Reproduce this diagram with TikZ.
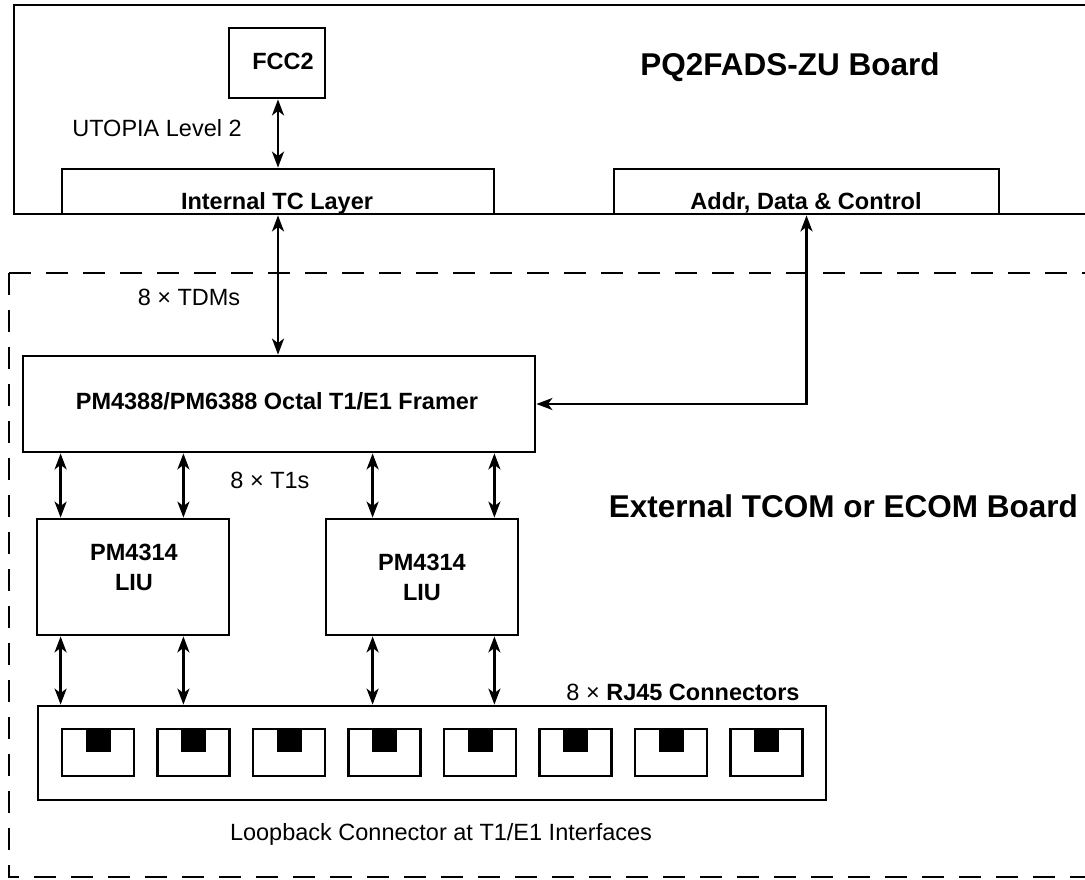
\documentclass[tikz,border=0pt]{standalone}
\usepackage{fontspec}
\setmainfont{Liberation Sans}
\usetikzlibrary{arrows.meta}
\begin{document}
\begin{tikzpicture}[x=1pt,y=-1pt,
  box/.style={draw, line width=2.8pt, inner sep=0pt},
  lbl/.style={font=\fontsize{23.5}{28}\selectfont, inner sep=0pt, text height=16.8pt, text depth=0pt},
  blbl/.style={font=\fontsize{23.5}{28}\selectfont\bfseries, inner sep=0pt, text height=16.8pt, text depth=0pt},
  mlbl/.style={font=\fontsize{23.5}{30}\selectfont\bfseries, inner sep=0pt, align=center},
  big/.style={font=\fontsize{31.5}{36}\selectfont\bfseries, inner sep=0pt, text height=22.6pt, text depth=0pt},
  link/.style={line width=2.4pt, {Stealth[length=16pt,width=12pt,inset=4.5pt]}-{Stealth[length=16pt,width=12pt,inset=4.5pt]}},
  dashline/.style={line width=2.4pt, dash pattern=on 22pt off 15pt},
  jack/.style={draw, line width=2.8pt, minimum width=72pt, minimum height=47pt, inner sep=0pt},
  pin/.style={fill, minimum width=25pt, minimum height=24pt, inner sep=0pt}]
\useasboundingbox (0,0) rectangle (1085,879);

% PQ2FADS-ZU board outline (open to the right)
\coordinate (bTR) at (1085,5);
\coordinate (bTL) at (14,5);
\coordinate (bBL) at (14,214);
\coordinate (bBR) at (1085,214);
\draw[line width=2.8pt] (bTR) -- (bTL) -- (bBL) -- (bBR);

% external board dashed outline (open to the right)
\coordinate (eTL) at (9,273);
\coordinate (eTR) at (1085,273);
\coordinate (eBL) at (9,877);
\coordinate (eBR) at (1085,877);
\draw[dashline] (eTL) -- (eTR);
\draw[dashline] (eTL) -- (eBL) -- (eBR);

% boxes
\node[box, minimum width=96pt, minimum height=70pt] (fcc) at (277,63) {};
\node[box, minimum width=432pt, minimum height=45pt] (tc) at (278,191.5) {};
\node[box, minimum width=385pt, minimum height=45pt] (addr) at (806.5,191.5) {};
\node[box, minimum width=512pt, minimum height=96pt] (fr) at (279,404) {};
\node[box, minimum width=192pt, minimum height=116pt] (l1) at (133,577) {};
\node[box, minimum width=192pt, minimum height=116pt] (l2) at (422,577) {};
\node[box, minimum width=788pt, minimum height=94pt] (rj) at (432,753) {};

% RJ45 jacks
\foreach \i in {0,...,7}{
  \node[jack] (j\i) at ({98+95.5*\i},752.5) {};
  \node[pin, anchor=north] (p\i) at (j\i.north) {};
}

% texts
\node[blbl] (fcct) at (283,61) {FCC2};
\node[big] (pq) at (790,64) {PQ2FADS-ZU Board};
\node[lbl] (utp) at (157,128) {UTOPIA Level 2};
\node[blbl] (tct) at (277,201) {Internal TC Layer};
\node[blbl] (addrt) at (806,201) {Addr, Data \& Control};
\node[lbl] (tdm) at (189,297) {8 × TDMs};
\node[blbl] (frt) at (277,401) {PM4388/PM6388 Octal T1/E1 Framer};
\node[lbl] (t1s) at (270,480) {8 × T1s};
\node[mlbl] (l1t) at (134,567) {PM4314\\LIU};
\node[mlbl] (l2t) at (422,577) {PM4314\\LIU};
\node[big, anchor=east] (ext) at (1078,506) {External TCOM or ECOM Board};
\node[lbl] (rjt) at (683,692) {8 × \textbf{RJ45 Connectors}};
\node[lbl] (loop) at (441,832) {Loopback Connector at T1/E1 Interfaces};

% connectors
\draw[link] (fcc.south -| tc.north) -- (tc.north);
\draw[link] (tc.south) -- (tc.south |- fr.north);
\draw[link] (addr.south) |- (fr.east);

\draw[link] ([xshift=25pt]l1.north west |- fr.south) -- ([xshift=25pt]l1.north west);
\draw[link] ([xshift=-47pt]l1.north east |- fr.south) -- ([xshift=-47pt]l1.north east);
\draw[link] ([xshift=48pt]l2.north west |- fr.south) -- ([xshift=48pt]l2.north west);
\draw[link] ([xshift=-25pt]l2.north east |- fr.south) -- ([xshift=-25pt]l2.north east);

\draw[link] ([xshift=25pt]l1.south west) -- ([xshift=25pt]l1.south west |- rj.north);
\draw[link] ([xshift=-47pt]l1.south east) -- ([xshift=-47pt]l1.south east |- rj.north);
\draw[link] ([xshift=48pt]l2.south west) -- ([xshift=48pt]l2.south west |- rj.north);
\draw[link] ([xshift=-25pt]l2.south east) -- ([xshift=-25pt]l2.south east |- rj.north);
\end{tikzpicture}
\end{document}
